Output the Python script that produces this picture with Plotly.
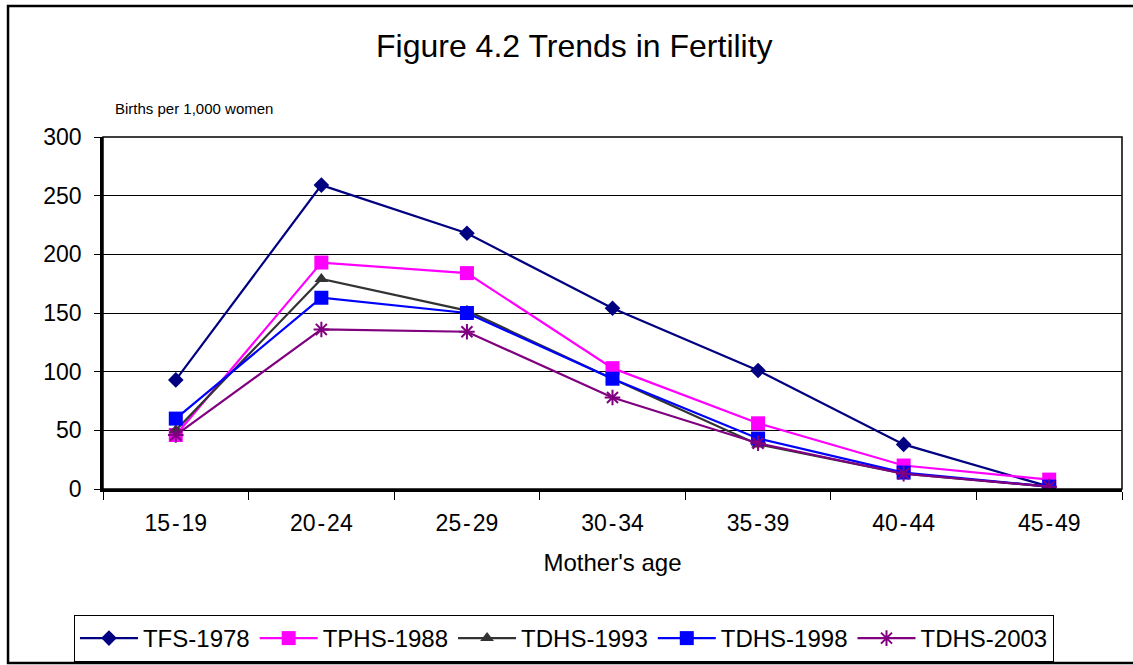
import plotly.graph_objects as go

# age groups and age-specific fertility rates (births per 1,000 women)
age_groups = ["15-19", "20-24", "25-29", "30-34", "35-39", "40-44", "45-49"]
age_labels = ["15\u200a-\u200a19", "20\u200a-\u200a24", "25\u200a-\u200a29", "30\u200a-\u200a34",
              "35\u200a-\u200a39", "40\u200a-\u200a44", "45\u200a-\u200a49"]
tfs_1978 = [93, 259, 218, 154, 101, 38, 2]
tphs_1988 = [46, 193, 184, 103, 56, 20, 8]
tdhs_1993 = [50, 179, 152, 94, 38, 13, 2]
tdhs_1998 = [60, 163, 150, 94, 43, 14, 2]
tdhs_2003 = [46, 136, 134, 78, 39, 13, 2]

series = [
    ("TFS-1978", tfs_1978, "#000080", "diamond", 12),
    ("TPHS-1988", tphs_1988, "#FF00FF", "square", 14),
    ("TDHS-1993", tdhs_1993, "#333333", "triangle-up", 12),
    ("TDHS-1998", tdhs_1998, "#0000FF", "square", 14),
    ("TDHS-2003", tdhs_2003, "#800080", "asterisk-open", 13),
]

FONT = "Arial, Liberation Sans, sans-serif"

fig = go.Figure()
for name, vals, color, symbol, size in series:
    fig.add_trace(go.Scatter(
        x=age_groups,
        y=vals,
        name=name,
        mode="lines+markers",
        line=dict(color=color, width=2.2),
        marker=dict(symbol=symbol, size=size, color=color,
                    line=dict(color=color, width=2 if symbol.startswith("asterisk") else 0)),
    ))

# plot area border (top / right)
fig.add_shape(type="rect", xref="paper", yref="paper", x0=0, x1=1, y0=0, y1=1,
              line=dict(color="black", width=1.5), layer="above")
# outer chart border
fig.add_shape(type="rect", xref="paper", yref="paper",
              x0=-0.0932, x1=1.02, y0=-0.4943, y1=1.372,
              line=dict(color="black", width=2.5))

fig.add_annotation(text="Figure 4.2 Trends in Fertility", xref="paper", yref="paper",
                   x=0.463, y=1.2585, showarrow=False, xanchor="center", yanchor="middle",
                   font=dict(family=FONT, size=32, color="black"))
fig.add_annotation(text="Births per 1,000 women", xref="paper", yref="paper",
                   x=0.0098, y=1.082, showarrow=False, xanchor="left", yanchor="middle",
                   font=dict(family=FONT, size=15, color="black"))

fig.update_layout(
    width=1133,
    height=665,
    margin=dict(l=103, r=11, t=137, b=176, autoexpand=False),
    paper_bgcolor="white",
    plot_bgcolor="white",
    font=dict(family=FONT, color="black"),
    showlegend=True,
    legend=dict(
        orientation="h",
        x=-0.0285, y=-0.358, xanchor="left", yanchor="top",
        bordercolor="black", borderwidth=1,
        font=dict(family=FONT, size=24, color="black"),
        itemwidth=58,
    ),
    xaxis=dict(
        type="category",
        range=[-0.5, 6.5],
        tickson="boundaries",
        tickmode="array", tickvals=age_groups, ticktext=age_labels,
        ticks="outside", ticklen=8, tickcolor="black", tickwidth=1,
        showline=True, linecolor="black", linewidth=2.5,
        showgrid=False,
        tickfont=dict(family=FONT, size=23, color="black"),
        ticklabelstandoff=12,
        title=dict(text="Mother's age", font=dict(family=FONT, size=24, color="black"), standoff=19),
    ),
    yaxis=dict(
        range=[0, 300], dtick=50,
        ticks="outside", ticklen=6, tickcolor="black", tickwidth=1,
        showline=True, linecolor="black", linewidth=2.5,
        showgrid=True, gridcolor="black", gridwidth=1,
        zeroline=False,
        tickfont=dict(family=FONT, size=23, color="black"),
        ticklabelstandoff=8,
    ),
)

fig.write_html("out.html", config={"displayModeBar": False},
               post_script="document.body.style.margin='0';")
